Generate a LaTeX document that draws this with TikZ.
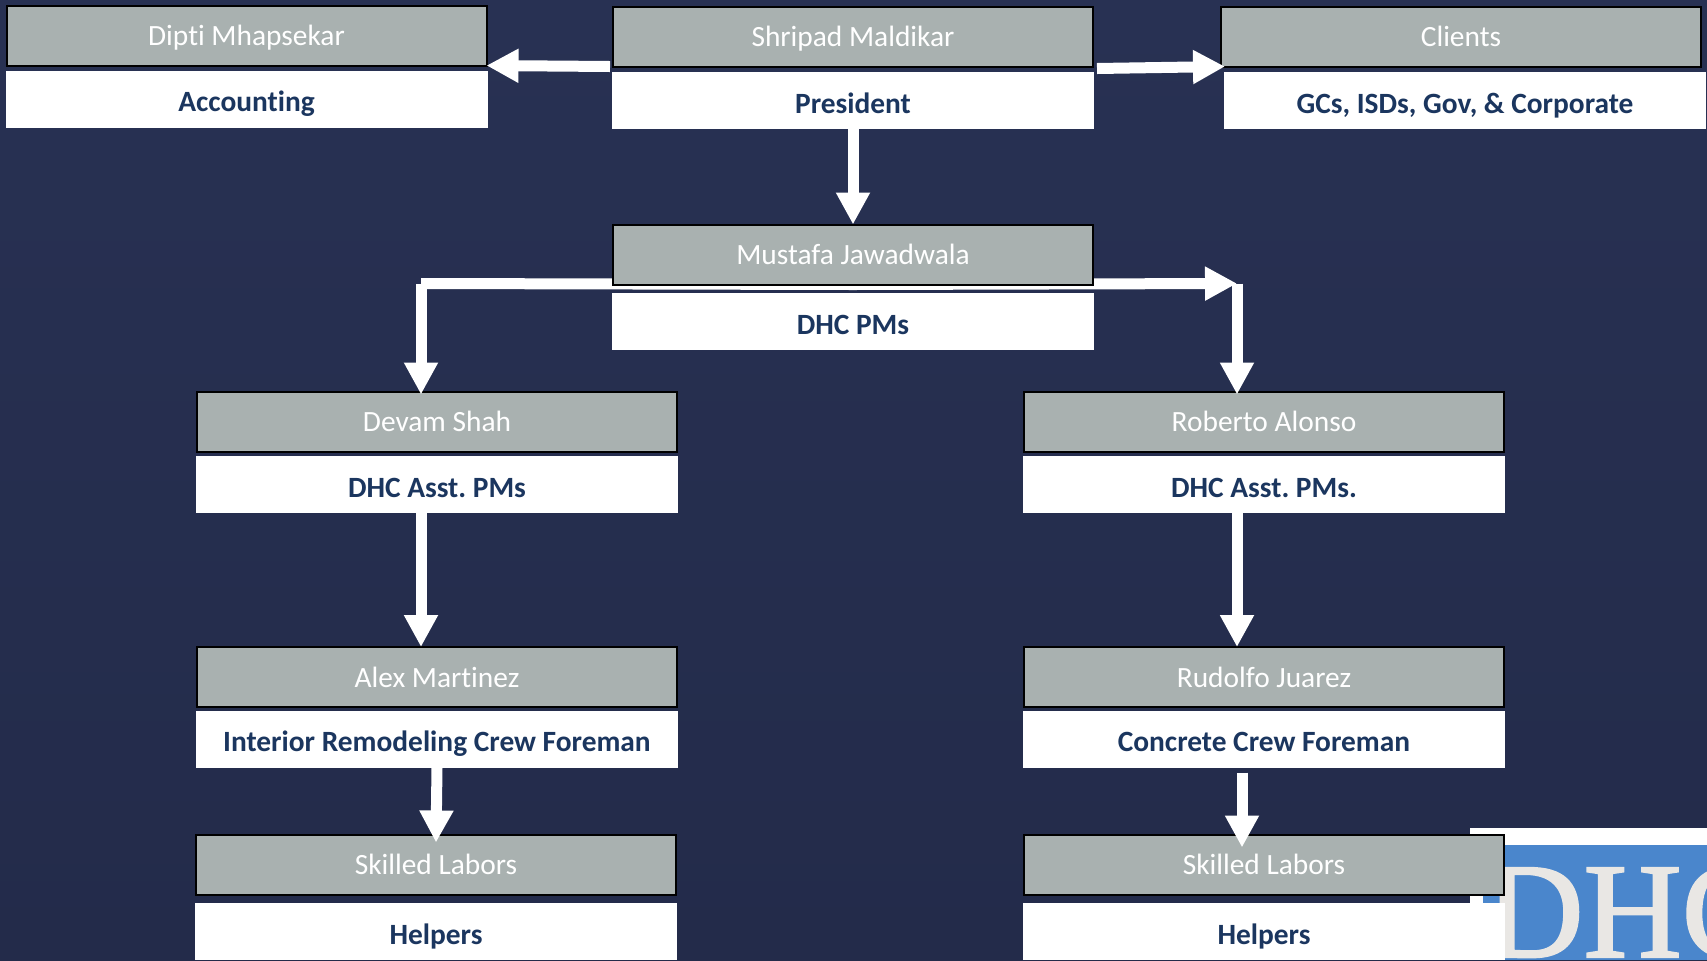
\documentclass[tikz,border=0pt]{standalone}
\usepackage{fontspec}
\setmainfont[Ligatures=NoCommon]{Carlito}
\newfontfamily\logofont[FakeBold=1.6]{Liberation Serif}
\usepackage{tikz}
\usetikzlibrary{arrows.meta,backgrounds}
\frenchspacing
\definecolor{slidetop}{HTML}{283153}
\definecolor{slidebottom}{HTML}{232B4A}
\definecolor{boxgrey}{HTML}{A9B1B0}
\definecolor{rolenavy}{HTML}{1B365F}
\definecolor{logoblue}{HTML}{4A86CC}
\definecolor{logotext}{HTML}{E9E7E4}
\tikzstyle{person} = [rectangle, minimum width=240pt, minimum height=30pt, inner sep=0pt, outer sep=0pt, text centered, draw=black, line width=1pt, fill=boxgrey, text=white, text height=12pt, text depth=2pt, font=\fontsize{14.7}{16}\selectfont]
\tikzstyle{role} = [rectangle, minimum width=241pt, minimum height=28.5pt, inner sep=0pt, outer sep=0pt, text centered, fill=white, text=rolenavy, text height=14.7pt, text depth=2pt, font=\fontsize{14.7}{16}\selectfont\bfseries, node distance=32pt]
\tikzstyle{arrow} = [line width=5.5pt,white,-{Triangle[length=16pt,width=16pt]}]
\tikzstyle{wire} = [line width=5.5pt,white]

\begin{document}
\begin{tikzpicture}[x=0.5pt,y=-0.5pt]
	\useasboundingbox (0,0) rectangle (1707,960);
	\node (shripad) [person] at (853,36.5) {Shripad Maldikar};
	\node (president) [role, below of=shripad] {President};
	\node (dipti) [person, left of=shripad, node distance=303.25pt, yshift=0.5pt] {Dipti Mhapsekar};
	\node (accounting) [role, below of=dipti, node distance=31.75pt] {Accounting};
	\node (clients) [person, right of=shripad, node distance=304pt] {Clients};
	\node (corporate) [role, below of=clients, xshift=2pt] {GCs, ISDs, Gov, \& Corporate};
	\node (mustafa) [person, below of=shripad, node distance=109pt] {Mustafa Jawadwala};
	\node (pms) [role, below of=mustafa, node distance=33.5pt] {DHC PMs};

	\node (devam) [person] at (437,421.5) {Devam Shah};
	\node (asstleft) [role, below of=devam, node distance=31.5pt] {DHC Asst. PMs};
	\node (alex) [person, below of=devam, node distance=127.75pt] {Alex Martinez};
	\node (interior) [role, below of=alex, node distance=31pt] {Interior Remodeling Crew Foreman};
	\node (laborsleft) [person, below of=alex, node distance=93.75pt, xshift=-0.5pt] {Skilled Labors};
	\node (helpersleft) [role, below of=laborsleft, node distance=33.5pt] {Helpers};

	\node (roberto) [person, right of=devam, node distance=413.5pt] {Roberto Alonso};
	\node (asstright) [role, below of=roberto, node distance=31.5pt] {DHC Asst. PMs.};
	\node (rudolfo) [person, below of=roberto, node distance=127.75pt] {Rudolfo Juarez};
	\node (concrete) [role, below of=rudolfo, node distance=31pt] {Concrete Crew Foreman};
	\node (laborsright) [person, below of=rudolfo, node distance=93.75pt] {Skilled Labors};
	\node (helpersright) [role, below of=laborsright, node distance=33.5pt] {Helpers};

	\coordinate (turnleft) at (421,283.5);
	\coordinate (turnright) at (1237,283.5);

	\draw [arrow] ([xshift=-1.5pt]shripad.south west) -- (dipti.south east);
	\draw [arrow] ([xshift=2pt,yshift=-1pt]shripad.south east) -- ([xshift=2pt]clients.south west);
	\draw [arrow] (president) -- (mustafa);
	\draw [arrow] (turnleft) -- ([yshift=-1.5pt]turnleft |- devam.north);
	\draw [arrow] (turnright) -- ([yshift=-1.5pt]turnright |- roberto.north);
	\draw [arrow] (turnleft |- asstleft.south) -- (turnleft |- alex.north);
	\draw [arrow] (turnright |- asstright.south) -- (turnright |- rudolfo.north);
	\draw [arrow] (interior.south) -- ([yshift=-4pt]laborsleft.north);
	\draw [arrow] ([xshift=-11pt,yshift=-2.5pt]concrete.south) -- ([xshift=-11pt,yshift=-6.5pt]laborsright.north);

	\begin{scope}[on background layer]
		\shade [top color=slidetop, bottom color=slidebottom] (0,0) rectangle (1707,960);
		% logo in the corner
		\fill [white] (1470,828) rectangle (1707,903);
		\fill [logoblue] (1483,845) rectangle (1707,960);
		\begin{scope}
			\clip (1483,845) rectangle (1707,960);
			\node (logo) [anchor=base west, inner sep=0pt, text=logotext, font=\logofont\fontsize{68}{68}\selectfont] at (1485,957) {DHC};
		\end{scope}
		\draw [wire] (mustafa.south) -- (turnleft);
		\draw [arrow] (mustafa.south) -- (turnright);
	\end{scope}
\end{tikzpicture}
\end{document}
